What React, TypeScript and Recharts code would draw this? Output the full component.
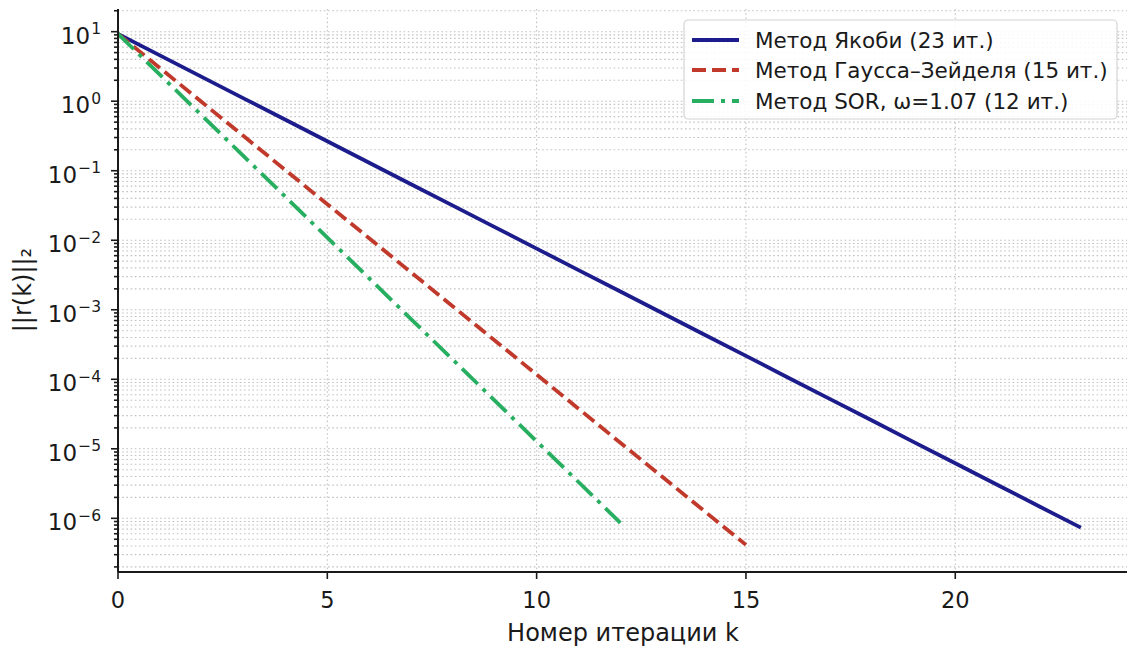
import { CartesianGrid, Line, LineChart, XAxis, YAxis } from "recharts";

// номера итераций и нормы невязки
const iterations = [
  0, 1, 2, 3, 4, 5, 6, 7, 8, 9, 10, 11, 12, 13, 14, 15, 16, 17, 18, 19, 20, 21, 22, 23,
];
const jacobiResidual = [
  9.29, 4.56, 2.24, 1.1, 0.541, 0.265, 0.13, 0.064, 0.0315, 0.01545, 0.00759,
  0.00372, 0.00183, 0.000899, 0.000441, 0.000217, 0.000106, 5.23e-5, 2.57e-5,
  1.26e-5, 6.19e-6, 3.04e-6, 1.49e-6, 7.34e-7,
];
const seidelResidual = [
  9.29, 3.01, 0.973, 0.315, 0.102, 0.033, 0.01067, 0.00345, 0.001117, 0.000361,
  0.000117, 3.78e-5, 1.22e-5, 3.96e-6, 1.28e-6, 4.15e-7,
];
const sorResidual = [
  9.29, 2.41, 0.625, 0.162, 0.0421, 0.01092, 0.00283, 0.000735, 0.000191,
  4.94e-5, 1.28e-5, 3.33e-6, 8.63e-7,
];

const xTicks = [0, 5, 10, 15, 20];
const majorExponents = [-6, -5, -4, -3, -2, -1, 0, 1];
const minorDecades = [-7, -6, -5, -4, -3, -2, -1, 0, 1];
const minorMultipliers = [2, 3, 4, 5, 6, 7, 8, 9];

const X_DOMAIN: [number, number] = [0, 24.15];
const Y_DOMAIN: [number, number] = [1.69e-7, 21.2];

const FONT = "'DejaVu Sans', sans-serif";
const INK = "#1a1a1a";

const series = [
  { key: "jacobi", name: "Метод Якоби (23 ит.)", values: jacobiResidual, color: "#1c1c8c", dash: undefined },
  { key: "seidel", name: "Метод Гаусса–Зейделя (15 ит.)", values: seidelResidual, color: "#c0392b", dash: "14 6" },
  { key: "sor", name: "Метод SOR, ω=1.07 (12 ит.)", values: sorResidual, color: "#27ae60", dash: "22 7 4 7" },
];

const majorTicks = majorExponents.map((e) => Math.pow(10, e));
const minorTicks = minorDecades
  .flatMap((e) => minorMultipliers.map((m) => m * Math.pow(10, e)))
  .filter((v) => v > Y_DOMAIN[0] && v < Y_DOMAIN[1]);
const yTicks = [...majorTicks, ...minorTicks].sort((a, b) => a - b);

function isMajor(v: number) {
  const e = Math.round(Math.log10(v));
  return Math.abs(v / Math.pow(10, e) - 1) < 1e-6;
}

function YTick({ x, y, payload }: any) {
  const v = payload.value as number;
  const major = isMajor(v);
  const e = Math.round(Math.log10(v));
  const len = major ? 7 : 4;
  return (
    <g>
      <line x1={x - len} x2={x} y1={y} y2={y} stroke={INK} strokeWidth={1.6} />
      {major && (
        <text x={x - 17} y={y + 12} textAnchor="end" fontFamily={FONT} fontSize={23} fill={INK}>
          <tspan>10</tspan>
          <tspan dx={1} dy={-9.5} fontSize={15.5}>
            {e < 0 ? `−${-e}` : `${e}`}
          </tspan>
        </text>
      )}
    </g>
  );
}

function XTick({ x, y, payload }: any) {
  return (
    <g>
      <line x1={x} x2={x} y1={y - 7} y2={y} stroke={INK} strokeWidth={1.6} />
      <text x={x} y={y + 29} textAnchor="middle" fontFamily={FONT} fontSize={22.5} fill={INK}>
        {payload.value}
      </text>
    </g>
  );
}

function LegendBox() {
  const rows = [40, 70, 101];
  return (
    <svg
      width={436}
      height={102}
      style={{ position: "absolute", left: 683, top: 19, overflow: "visible" }}
    >
      <rect
        x={1}
        y={1}
        width={433}
        height={99}
        rx={4}
        fill="rgba(255,255,255,0.85)"
        stroke="#d4d4d4"
        strokeWidth={1.2}
      />
      {series.map((s, i) => (
        <g key={s.key}>
          <line
            x1={9}
            x2={56}
            y1={rows[i] - 19}
            y2={rows[i] - 19}
            stroke={s.color}
            strokeWidth={3.8}
            strokeDasharray={s.dash}
          />
          <text x={72} y={rows[i] - 19 + 7.5} fontFamily={FONT} fontSize={21.5} fill={INK}>
            {s.name}
          </text>
        </g>
      ))}
    </svg>
  );
}

export default function App() {
  return (
    <div
      style={{
        position: "absolute",
        left: 0,
        top: 0,
        width: 1127,
        height: 648,
        overflow: "hidden",
        background: "#fff",
      }}
    >
      <LineChart
        width={1129}
        height={648}
        margin={{ top: 9, right: 0, bottom: 0, left: 0 }}
      >
        <CartesianGrid
          stroke="#c2c2c2"
          strokeDasharray="1.6 2.6"
          strokeWidth={1.1}
          horizontalValues={yTicks}
          verticalValues={xTicks}
        />
        <XAxis
          type="number"
          dataKey="k"
          domain={X_DOMAIN}
          ticks={xTicks}
          allowDataOverflow
          height={76}
          tickSize={7}
          tickMargin={0}
          tickLine={false}
          tick={<XTick />}
          axisLine={{ stroke: INK, strokeWidth: 2 }}
        />
        <XAxis
          xAxisId="top"
          orientation="top"
          type="number"
          domain={X_DOMAIN}
          allowDataOverflow
          height={0}
          tick={false}
          tickLine={false}
          axisLine={{ stroke: INK, strokeWidth: 2 }}
        />
        <YAxis
          type="number"
          scale="log"
          domain={Y_DOMAIN}
          ticks={yTicks}
          allowDataOverflow
          interval={0}
          width={118}
          tickSize={0}
          tickMargin={0}
          tickLine={false}
          tick={<YTick />}
          axisLine={{ stroke: INK, strokeWidth: 2 }}
        />
        {series.map((s) => (
          <Line
            key={s.key}
            data={s.values.map((r, i) => ({ k: iterations[i], r }))}
            dataKey="r"
            name={s.name}
            type="linear"
            stroke={s.color}
            strokeWidth={3.8}
            strokeDasharray={s.dash}
            dot={false}
            activeDot={false}
            isAnimationActive={false}
          />
        ))}
        <text
          x={623}
          y={641}
          textAnchor="middle"
          fontFamily={FONT}
          fontSize={24}
          fill={INK}
        >
          Номер итерации k
        </text>
        <text
          x={31}
          y={290}
          textAnchor="middle"
          transform="rotate(-90 31 290)"
          fontFamily={FONT}
          fontSize={24}
          fill={INK}
        >
          ||r(k)||₂
        </text>
      </LineChart>
      <LegendBox />
    </div>
  );
}
